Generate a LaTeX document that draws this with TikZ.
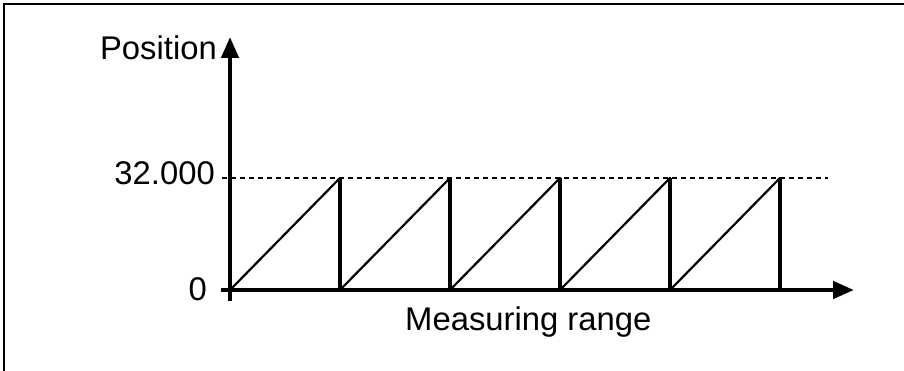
\documentclass[tikz,border=0pt]{standalone}
\usepackage{fontspec}
\setmainfont{Liberation Sans}
\usetikzlibrary{arrows.meta}
\begin{document}
\begin{tikzpicture}[x=1pt,y=-1pt,
  lbl/.style={inner sep=0pt,font=\fontsize{32.8}{35}\selectfont},
  axis/.style={line width=4.5pt,-{Triangle[length=21pt,width=17pt]}},
  ramp/.style={line width=2.2pt,line cap=round},
  drop/.style={line width=3.2pt},
  level/.style={line width=1.5pt,dash pattern=on 5pt off 4pt}]
\useasboundingbox (0,0) rectangle (904,371);
% frame (top and left edges visible)
\draw[line width=2pt] (4.3,371) -- (4.3,4.3) -- (904,4.3);
% axes
\coordinate (ybot) at (230,301);
\coordinate (ytop) at (230,37);
\coordinate (xleft) at (221,290);
\coordinate (xright) at (854,290);
% dashed level
\coordinate (lvlL) at (222,178);
\coordinate (lvlR) at (828,178);
\draw[level] (lvlL) -- (lvlR);
% sawtooth
\foreach \k in {0,...,4}{
  \coordinate (b\k) at ({230+110*\k},290);
  \coordinate (t\k) at ({340+110*\k},178);
  \coordinate (e\k) at ({340+110*\k},290);
  \draw[ramp] (b\k) -- (t\k);
  \draw[drop] (t\k) -- (e\k);
}
\draw[axis] (ybot) -- (ytop);
\draw[axis] (xleft) -- (xright);
% labels
\node[lbl,anchor=base east] (pos) at (217,59.3) {Position};
\node[lbl,anchor=base east] (max) at (215,185) {32.000};
\node[lbl,anchor=base east] (zero) at (207,300) {0};
\node[lbl,anchor=base west] (mr) at (405,330.7) {Measuring range};
\end{tikzpicture}
\end{document}
